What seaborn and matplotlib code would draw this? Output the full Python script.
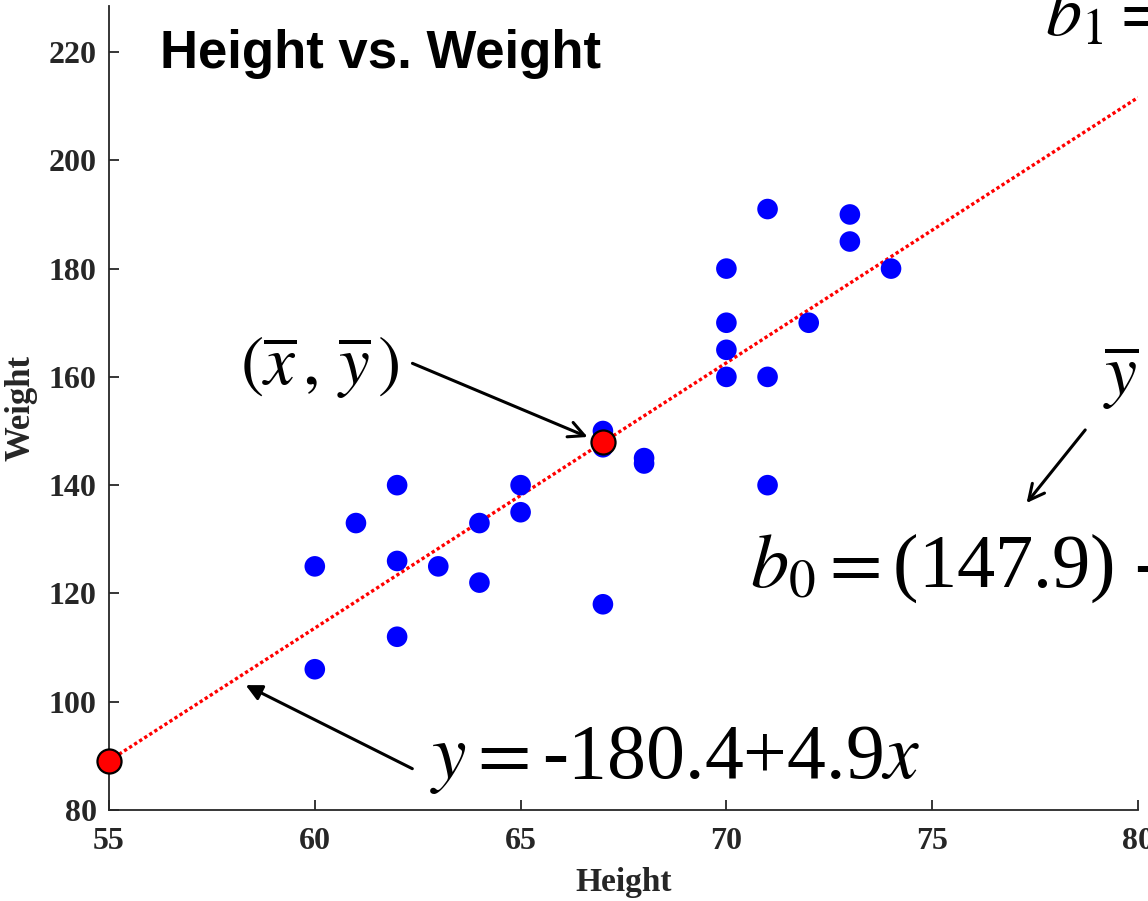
import matplotlib
matplotlib.use("Agg")
import matplotlib.pyplot as plt
import seaborn as sns

# data
height = [60, 60, 61, 62, 62, 62, 63, 64, 64, 65, 65, 67, 67, 67, 68, 68,
          70, 70, 70, 70, 71, 71, 71, 72, 73, 73, 74]
weight = [125, 106, 133, 140, 126, 112, 125, 133, 122, 140, 135, 150, 147, 118, 145, 144,
          180, 170, 165, 160, 191, 160, 140, 170, 190, 185, 180]

b0, b1 = -180.4, 4.9          # fitted line y = b0 + b1 x
x_bar, y_bar = 67.0, 147.9    # mean point
x_line = [55, 80]
y_line = [b0 + b1 * v for v in x_line]

x_ticks = [55, 60, 65, 70, 75, 80]
y_ticks = [80, 100, 120, 140, 160, 180, 200, 220]

sns.set_style("ticks")
plt.rcParams["mathtext.fontset"] = "stix"
plt.rcParams["font.family"] = ["Liberation Serif", "DejaVu Sans"]

W, H = 1148, 901
fig = plt.figure(figsize=(W / 100, H / 100), dpi=100)
# axes box: x 55..80 -> px 109..1138, y 80 -> px 810 (top is cropped in the reference)
ax = fig.add_axes([109 / W, 1 - 810 / H, (1138 - 109) / W, (810 - 6) / H])

dark = "#262626"

sns.lineplot(x=x_line, y=y_line, color="red", linestyle=(0, (1, 0.8)),
             linewidth=2.4, ax=ax, zorder=2)
sns.scatterplot(x=height, y=weight, color="blue", s=220, edgecolor="none",
                ax=ax, zorder=3)
sns.scatterplot(x=[x_line[0], x_bar], y=[y_line[0], y_bar], color="red",
                edgecolor="black", linewidth=1.6, s=300, ax=ax, zorder=4,
                clip_on=False)

ax.set_xlim(55, 80)
ax.set_ylim(80, 80 + (810 - 6) / 5.414)
ax.set_xticks(x_ticks)
ax.set_yticks(y_ticks)
ax.tick_params(direction="in", length=7, width=1.3, colors=dark,
               labelsize=23, pad=9)
ax.tick_params(axis="x", pad=12)
for lab in ax.get_xticklabels() + ax.get_yticklabels():
    lab.set_fontweight("bold")
for s in ["top", "right"]:
    ax.spines[s].set_visible(False)
for s in ["left", "bottom"]:
    ax.spines[s].set_color(dark)
    ax.spines[s].set_linewidth(1.3)

ax.set_xlabel("Height", fontsize=24, fontweight="bold", color=dark, labelpad=8)
ax.set_ylabel("Weight", fontsize=25, fontweight="bold", color=dark, labelpad=8)

# title inside the plot
ax.text(56.24, 217.0, "Height vs. Weight", fontsize=38, fontweight="bold",
        family="Liberation Sans", color="black", va="baseline")

# equation texts
ax.text(62.8, 85.9, r"$y = $-180.4+4.9$x$", fontsize=56, va="baseline",
        color="black")
ax.text(70.57, 121.2, r"$b_0 = $(147.9) -", fontsize=55,
        va="baseline", color="black", clip_on=False)
ax.text(58.18, 158.5, r"$(\overline{x}\,,\,\overline{y}\,)$", fontsize=50,
        va="baseline", color="black")
ax.text(79.15, 156.5, r"$\overline{y}$", fontsize=52, va="baseline",
        color="black")
ax.text(77.74, 223.1, r"$b_1 = $", fontsize=52, va="baseline", color="black",
        clip_on=False)

# arrows
ax.annotate("", xy=(66.69, 148.7), xytext=(62.31, 162.7),
            arrowprops=dict(arrowstyle="->", color="black", lw=2.2,
                            mutation_scale=28))
ax.annotate("", xy=(77.25, 136.3), xytext=(78.76, 150.6),
            arrowprops=dict(arrowstyle="->", color="black", lw=2.2,
                            mutation_scale=28))
ax.annotate("", xy=(58.26, 103.3), xytext=(62.43, 87.4),
            arrowprops=dict(arrowstyle="-|>", color="black", lw=2.2,
                            mutation_scale=24))

fig.savefig("out.png", dpi=100)
